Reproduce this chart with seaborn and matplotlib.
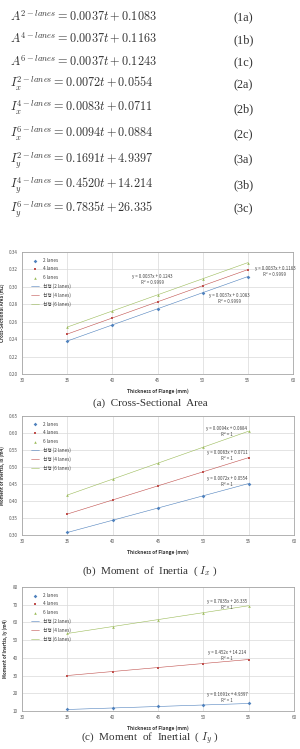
import matplotlib
matplotlib.use("Agg")
import matplotlib.pyplot as plt
import seaborn as sns
import pandas as pd

# ---------------- data ----------------
thickness = [35, 40, 45, 50, 55]
lane_labels = ["2 lanes", "4 lanes", "6 lanes"]
trend_labels = ["선형 (2 lanes)", "선형 (4 lanes)", "선형 (6 lanes)"]

area_2 = [0.2378, 0.2563, 0.2748, 0.2933, 0.3118]
area_4 = [0.2458, 0.2643, 0.2828, 0.3013, 0.3198]
area_6 = [0.2538, 0.2723, 0.2908, 0.3093, 0.3278]

ix_2 = [0.3074, 0.3434, 0.3794, 0.4154, 0.4514]
ix_4 = [0.3616, 0.4031, 0.4446, 0.4861, 0.5276]
ix_6 = [0.4174, 0.4644, 0.5114, 0.5584, 0.6054]

iy_2 = [10.86, 11.70, 12.55, 13.39, 14.24]
iy_4 = [30.03, 32.29, 34.55, 36.81, 39.07]
iy_6 = [53.76, 57.68, 61.59, 65.51, 69.43]

area_ticks = [0.20, 0.22, 0.24, 0.26, 0.28, 0.30, 0.32, 0.34]
ix_ticks = [0.30, 0.35, 0.40, 0.45, 0.50, 0.55, 0.60, 0.65]
iy_ticks = [10, 20, 30, 40, 50, 60, 70, 80]
x_ticks = [30, 35, 40, 45, 50, 55, 60]

area_fit_text = ["y = 0.0037x + 0.1083\nR² = 0.9999",
                 "y = 0.0037x + 0.1163\nR² = 0.9999",
                 "y = 0.0037x + 0.1243\nR² = 0.9999"]
ix_fit_text = ["y = 0.0072x + 0.0554\nR² = 1",
               "y = 0.0083x + 0.0711\nR² = 1",
               "y = 0.0094x + 0.0884\nR² = 1"]
iy_fit_text = ["y = 0.1691x + 4.9397\nR² = 1",
               "y = 0.452x + 14.214\nR² = 1",
               "y = 0.7835x + 26.335\nR² = 1"]

equations = [r"$A^{2-lanes}=0.0037t+0.1083$",
             r"$A^{4-lanes}=0.0037t+0.1163$",
             r"$A^{6-lanes}=0.0037t+0.1243$",
             r"$I_x^{2-lanes}=0.0072t+0.0554$",
             r"$I_x^{4-lanes}=0.0083t+0.0711$",
             r"$I_x^{6-lanes}=0.0094t+0.0884$",
             r"$I_y^{2-lanes}=0.1691t+4.9397$",
             r"$I_y^{4-lanes}=0.4520t+14.214$",
             r"$I_y^{6-lanes}=0.7835t+26.335$"]
eq_numbers = ["(1a)", "(1b)", "(1c)", "(2a)", "(2b)", "(2c)", "(3a)", "(3b)", "(3c)"]
captions = ["(a)  Cross-Sectional  Area",
            r"(b)  Moment  of  Inertia  ( $I_x$ )",
            r"(c)  Moment  of  Inertial  ( $I_y$ )"]

# ---------------- style ----------------
sns.set_style("white")
plt.rcParams["font.family"] = ["Noto Sans CJK KR", "DejaVu Sans"]
plt.rcParams["mathtext.fontset"] = "cm"

colors = ["#4F81BD", "#C0504D", "#9BBB59"]
markers = ["D", "s", "^"]
W, H = 300, 749

fig = plt.figure(figsize=(W / 100, H / 100), dpi=100)

# equations
eq_baselines = [21, 43, 66, 88, 112, 138, 163, 188, 212]
for eq, num, yb in zip(equations, eq_numbers, eq_baselines):
    fig.text(10 / W, 1 - yb / H, eq, fontsize=8.8, va="baseline", ha="left", color="#333333")
    fig.text(234 / W, 1 - yb / H, num, fontsize=8.8, va="baseline", ha="left",
             family="Liberation Serif", color="#333333")


def draw(rect, series, ylim, yticks, yfmt, ylabel, fit_text, fit_pos, caption, cap_y):
    ax = fig.add_axes(rect)
    for vals, lab, col, mk in zip(series, lane_labels, colors, markers):
        sns.scatterplot(x=thickness, y=vals, ax=ax, color=col, marker=mk, s=3.5,
                        linewidth=0, label=lab, zorder=3)
    for vals, lab, col in zip(series, trend_labels, colors):
        sns.regplot(x=thickness, y=vals, ax=ax, scatter=False, ci=None, truncate=True,
                    color=col, label=lab, line_kws=dict(lw=0.4))
    ax.set_xlim(30, 60)
    ax.set_ylim(*ylim)
    ax.set_xticks(x_ticks)
    ax.set_yticks(yticks)
    ax.set_yticklabels([yfmt.format(v) for v in yticks])
    ax.tick_params(labelsize=3.3, length=0, pad=3, colors="#555555")
    ax.grid(True, color="#D9D9D9", lw=0.5)
    ax.set_axisbelow(True)
    for s in ax.spines.values():
        s.set_color("#A6A6A6")
        s.set_linewidth(0.6)
    ax.set_xlabel("Thickness of Flange (mm)", fontsize=3.5, fontweight="bold",
                  labelpad=4, color="#333333")
    ax.set_ylabel(ylabel, fontsize=3.3, fontweight="bold", labelpad=3, color="#333333")
    leg = ax.legend(loc="upper left", bbox_to_anchor=(0.02, 0.98), frameon=False,
                    fontsize=3.4, handlelength=1.8, labelspacing=0.75, scatterpoints=1,
                    markerscale=1.0, borderaxespad=0.3)
    for t in leg.get_texts():
        t.set_color("#444444")
    for txt, (px, py) in zip(fit_text, fit_pos):
        ax.text(px, py, txt, fontsize=3.2, ha="center", va="center", color="#444444",
                linespacing=1.2)
    fig.text(0.5, 1 - cap_y / H, caption, fontsize=8, ha="center", va="center",
             family="Liberation Serif", color="#333333")
    return ax


draw([22 / W, 1 - 374 / H, 271 / W, 122 / H],
     [area_2, area_4, area_6], (0.20, 0.34), area_ticks, "{:.2f}",
     "Cross-Sectional Area (m2)", area_fit_text,
     [(53.0, 0.2865), (58.0, 0.3175), (44.4, 0.3085)],
     captions[0], 403)

draw([22 / W, 1 - 535 / H, 272 / W, 119 / H],
     [ix_2, ix_4, ix_6], (0.30, 0.65), ix_ticks, "{:.2f}",
     "Moment of Inertia, Ix (m4)", ix_fit_text,
     [(52.6, 0.458), (52.6, 0.534), (52.6, 0.605)],
     captions[1], 571)

draw([22 / W, 1 - 711 / H, 272 / W, 124 / H],
     [iy_2, iy_4, iy_6], (10, 80), iy_ticks, "{:.0f}",
     "Moment of Inertia, Iy (m4)", iy_fit_text,
     [(52.6, 17.6), (52.6, 41.3), (52.6, 70.1)],
     captions[2], 739)

fig.savefig("out.png", dpi=100)
